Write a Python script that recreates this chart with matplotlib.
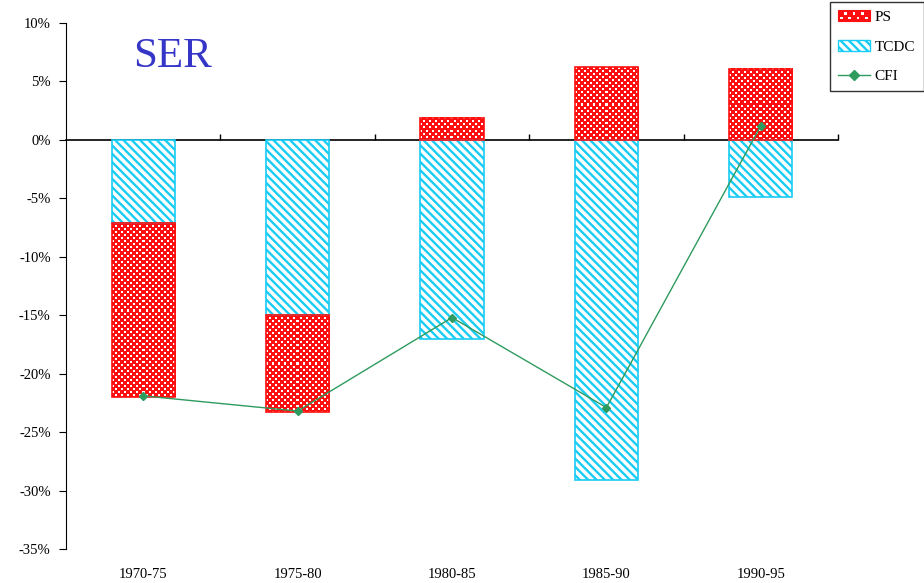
import matplotlib
matplotlib.use('Agg')
import matplotlib.pyplot as plt
import numpy as np
from matplotlib.ticker import FuncFormatter, MultipleLocator
from matplotlib.colors import to_rgb
from matplotlib.patches import Rectangle, Patch
from matplotlib.lines import Line2D
from matplotlib.legend_handler import HandlerBase

periods = ['1970-75', '1975-80', '1980-85', '1985-90', '1990-95']
ps = [-14.9, -8.3, 1.9, 6.2, 6.1]
tcdc = [-7.1, -15.0, -17.0, -29.1, -4.9]
cfi = [-21.9, -23.2, -15.2, -22.9, 1.2]

plt.rcParams['font.family'] = ['Liberation Serif', 'DejaVu Serif']
plt.rcParams['hatch.linewidth'] = 1.7

RED = '#FF1010'
CYAN = '#19CCF5'
GREEN = '#2E9B5E'
TC_HATCH = '\\\\\\\\'

fig = plt.figure(figsize=(9.24, 5.83), dpi=100)
ax = fig.add_axes([66/924, 1-549/583, (838-66)/924, (549-23)/583])
ax.set_xlim(-0.5, 4.5)
ax.set_ylim(-35, 10)

x = np.arange(len(periods))
w = 0.41

# PS sits below TCDC when both are negative, otherwise starts at zero
ps_bottom = [t if p < 0 else 0 for p, t in zip(ps, tcdc)]

ax.bar(x, tcdc, w, color='white', edgecolor=CYAN, hatch=TC_HATCH, linewidth=0, zorder=2)
ax.bar(x, tcdc, w, fill=False, edgecolor=CYAN, linewidth=1.2, zorder=3)


def checker(nrows, ncols):
    # small red/white checker tile, one array cell per screen pixel
    r, c = np.mgrid[0:nrows, 0:ncols]
    white = ((r % 6 < 2) & (c % 6 < 2)) | ((r % 6 >= 3) & (r % 6 < 5) & (c % 6 >= 3) & (c % 6 < 5))
    img = np.empty((nrows, ncols, 3))
    img[:] = to_rgb(RED)
    img[white] = 1.0
    return img


ps_bars = ax.bar(x, ps, w, bottom=ps_bottom, fill=False, edgecolor=RED, linewidth=1.2, zorder=3)
for bar in ps_bars:
    x0, y0 = bar.get_x(), bar.get_y()
    x1, y1 = x0 + bar.get_width(), y0 + bar.get_height()
    (px0, py0), (px1, py1) = ax.transData.transform([(x0, y0), (x1, y1)])
    img = checker(max(1, int(round(abs(py1 - py0)))), max(1, int(round(abs(px1 - px0)))))
    ax.imshow(img, extent=(x0, x1, min(y0, y1), max(y0, y1)), origin='upper',
              interpolation='nearest', aspect='auto', zorder=2)

ax.plot(x, cfi, color=GREEN, lw=1, marker='D', markersize=4.5, zorder=4)

ax.set_xlim(-0.5, 4.5)
ax.set_ylim(-35, 10)
ax.yaxis.set_major_locator(MultipleLocator(5))
ax.yaxis.set_major_formatter(FuncFormatter(lambda v, p: '%d%%' % round(v)))
ax.tick_params(axis='y', direction='out', length=5, labelsize=10.5, pad=6)

ax.set_xticks(x)
ax.set_xticklabels(periods, fontsize=10.5)
ax.tick_params(axis='x', length=0, pad=14)

for s in ['top', 'right', 'bottom']:
    ax.spines[s].set_visible(False)

# zero line with category boundary ticks
zero = ax.secondary_xaxis(35/45)
zero.set_xticks(np.arange(len(periods)) + 0.5)
zero.set_xticklabels([])
zero.tick_params(direction='out', length=4, width=1)
zero.spines['top'].set_linewidth(1.2)

ax.text(0.19, 7.1, 'SER', fontsize=31, color='#3535C8', ha='center', va='center')


class CheckerHandler(HandlerBase):
    # red key box with rows of small white squares
    def create_artists(self, legend, orig_handle, xdescent, ydescent,
                       width, height, fontsize, trans):
        arts = [Rectangle((-xdescent, -ydescent), width, height, facecolor=RED,
                          edgecolor=RED, lw=0.8, transform=trans)]
        s = 2.0
        for row, yy in enumerate(np.arange(1.2, height - s, 3.0)):
            for xx in np.arange(1.5 + (row % 2) * 3.0, width - s, 6.0):
                arts.append(Rectangle((xx - xdescent, yy - ydescent), s, s,
                                      facecolor='white', lw=0, transform=trans))
        return arts


ps_patch = Patch(facecolor=RED, label='PS')
tc_patch = Patch(facecolor='white', edgecolor=CYAN, hatch=TC_HATCH, label='TCDC')
cfi_line = Line2D([], [], color=GREEN, lw=1, marker='D', markersize=5, label='CFI')
leg = fig.legend(handles=[ps_patch, tc_patch, cfi_line], loc='upper right',
                 bbox_to_anchor=(923.5/924, 1-2/583), handler_map={ps_patch: CheckerHandler()},
                 fontsize=11, frameon=True, fancybox=False, edgecolor='black',
                 handlelength=2.1, labelspacing=1.03, handletextpad=0.3, borderpad=0.55,
                 borderaxespad=0)
leg.get_frame().set_linewidth(1)

fig.savefig('out.png', dpi=100)
